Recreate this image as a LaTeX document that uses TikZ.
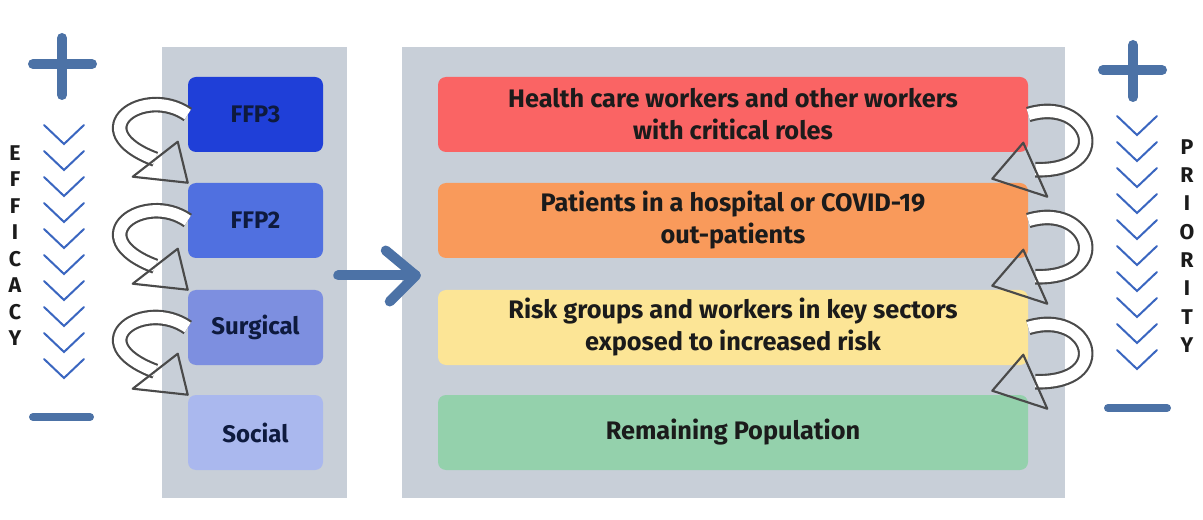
\documentclass[tikz,border=0pt]{standalone}
\usepackage{fontspec}
\setmainfont{Fira Sans}
\usetikzlibrary{calc}

\definecolor{panelgray}{HTML}{C8CFD8}
\definecolor{ffpthree}{HTML}{1F3FD8}
\definecolor{ffptwo}{HTML}{5070E0}
\definecolor{surgblue}{HTML}{7D8FE0}
\definecolor{socialblue}{HTML}{AAB8EE}
\definecolor{hcwred}{HTML}{FA6464}
\definecolor{patorange}{HTML}{F99A5B}
\definecolor{riskyellow}{HTML}{FCE596}
\definecolor{remgreen}{HTML}{94D1AC}
\definecolor{signblue}{HTML}{4C72A6}
\definecolor{chevblue}{HTML}{3A66C0}
\definecolor{curlgray}{HTML}{4A4A4A}
\definecolor{navytext}{HTML}{0E1A3E}
\definecolor{darktext}{HTML}{1B1B1B}

\tikzset{
  panel/.style={fill=panelgray, minimum height=338.25pt, inner sep=0pt},
  lbox/.style={rounded corners=6pt, minimum width=101.25pt, minimum height=56.25pt, text=navytext, font=\fontsize{18}{22}\selectfont\bfseries},
  rbox/.style={rounded corners=6pt, minimum width=442.5pt, minimum height=56.25pt, align=center, text=darktext, font=\fontsize{19}{24}\selectfont\bfseries},
  chev/.style={draw=chevblue, line width=1.5pt, line cap=round},
  curl/.style={draw=curlgray, line width=1.6pt, double=white, double distance=8.5pt},
  curlhead/.style={draw=curlgray, line width=1.6pt, line join=round},
  sign/.style={draw=signblue, line cap=round, line width=7.5pt},
  bigarrow/.style={draw=signblue, line width=7.5pt, line cap=round, line join=round},
  vletter/.style={font=\fontsize{16}{16}\selectfont\bfseries, text=darktext}
}

\begin{document}
\begin{tikzpicture}[x=0.75pt,y=0.75pt,yscale=-1,xscale=1]
\useasboundingbox (0,0) rectangle (1203,520);

%Shape: Panels
\draw (254.5,272.5) node [panel, minimum width=138.75pt] (lpanel) {};
\draw (733.5,272.5) node [panel, minimum width=497.25pt] (rpanel) {};

% Mask boxes
\draw (255.5,114.5) node [lbox, fill=ffpthree] (ffp3) {FFP3};
\draw (255.5,220.5) node [lbox, fill=ffptwo] (ffp2) {FFP2};
\draw (255.5,327.5) node [lbox, fill=surgblue] (surg) {Surgical};
\draw (255.5,432.5) node [lbox, fill=socialblue] (social) {Social};

% Priority boxes
\draw (733,114.5) node [rbox, fill=hcwred] (hcw) {Health care workers and other workers\\with critical roles};
\draw (733,220.5) node [rbox, fill=patorange] (pat) {Patients in a hospital or COVID-19\\out-patients};
\draw (733,327.5) node [rbox, fill=riskyellow] (risk) {Risk groups and workers in key sectors\\exposed to increased risk};
\draw (733,432.5) node [rbox, fill=remgreen] (rem) {Remaining Population};

%Curved arrows, left
\foreach \a/\b in {ffp3/ffp2, ffp2/surg, surg/social}{
  \draw[curl] (\a.west) .. controls +(-43,-30) and +(-77.5,-29.5) .. ($(\b.north west)+(-32.5,-23.5)$);
  \draw[curlhead] (\b.north west) -- +(-55,-6) -- +(-10,-41) -- cycle;
}

%Curved arrows, right
\foreach \a/\b in {hcw/pat, pat/risk, risk/rem}{
  \draw[curl] (\a.east) .. controls +(62,-19) and +(80,2) .. ($(\b.north east)+(7,-13)$);
  \draw[curlhead] ($(\b.north east)+(-36,-4)$) -- +(31,-36) -- +(55,18) -- cycle;
}

%Straight arrow between panels
\coordinate (ctip) at ($(rpanel.west)+(14,3)$);
\draw[bigarrow] ($(lpanel.east)+(-9,3)$) -- (ctip);
\draw[bigarrow] ($(ctip)+(-30,-25)$) -- (ctip) -- ($(ctip)+(-26,26)$);

%Plus and minus signs
\draw[sign] (33,64) -- (92,64);
\draw[sign] (62,38) -- (62,95);
\draw[sign, line width=6pt] (33,417) -- (90,417);
\draw[sign] (1103,70) -- (1162,70);
\draw[sign] (1133,45) -- (1133,97);
\draw[sign, line width=6pt] (1108,408) -- (1167,408);

%Chevrons
\foreach \k in {0,...,9}{
  \draw[chev] (44,125+26*\k) -- (64,144+26*\k) -- (84,125+26*\k);
  \draw[chev] (1117,116+26*\k) -- (1137,135+26*\k) -- (1157,116+26*\k);
}

% Text Node
\foreach \l [count=\i] in {E,F,F,I,C,A,C,Y}
  \draw (15,126.5+26.5*\i) node [vletter] {\l};
% Text Node
\foreach \l [count=\i] in {P,R,I,O,R,I,T,Y}
  \draw (1187,118.7+28.3*\i) node [vletter] {\l};

\end{tikzpicture}
\end{document}
